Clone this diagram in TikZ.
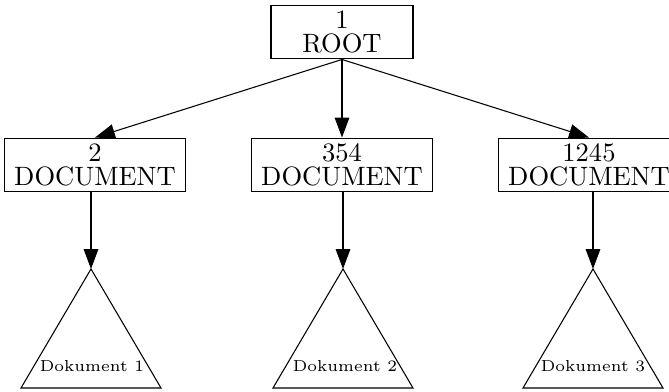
\documentclass[tikz,border=0pt]{standalone}
\usetikzlibrary{arrows.meta}
\begin{document}
\begin{tikzpicture}[x=0.3767pt,y=-0.3767pt,
  box/.style={draw, line width=0.4pt, inner sep=0pt, align=center, font=\fontsize{10}{9.2}\selectfont, minimum height=20.3pt},
  rootbox/.style={box, minimum width=53.5pt},
  docbox/.style={box, minimum width=68.5pt},
  conn/.style={-{Triangle[length=7.5pt,width=5.5pt]}, line width=0.4pt},
  tri/.style={draw, line width=0.4pt, line join=miter},
  doclabel/.style={font=\fontsize{6}{7}\selectfont, inner sep=0pt}]
\useasboundingbox (0,0) rectangle (669,392);
\node[rootbox] (root) at (342,32) {1\\ROOT};
\node[docbox] (d1) at (95,165) {2\\DOCUMENT};
\node[docbox] (d2) at (342,165) {354\\DOCUMENT};
\node[docbox] (d3) at (589,165) {1245\\DOCUMENT};
\coordinate (t1) at (91,269);
\coordinate (t2) at (343,269);
\coordinate (t3) at (593,269);
\draw[tri] (t1) -- (21,388) -- (161,388) -- cycle;
\draw[tri] (t2) -- (273,388) -- (413,388) -- cycle;
\draw[tri] (t3) -- (523,388) -- (663,388) -- cycle;
\node[doclabel] (l1) at (92,366) {Dokument 1};
\node[doclabel] (l2) at (345,366) {Dokument 2};
\node[doclabel] (l3) at (593,366) {Dokument 3};
\draw[conn] (root.south) -- (d1.north);
\draw[conn] (root.south) -- (d2.north);
\draw[conn] (root.south) -- (d3.north);
\draw[conn] (d1.south -| t1) -- (t1);
\draw[conn] (d2.south -| t2) -- (t2);
\draw[conn] (d3.south -| t3) -- (t3);
\end{tikzpicture}
\end{document}
